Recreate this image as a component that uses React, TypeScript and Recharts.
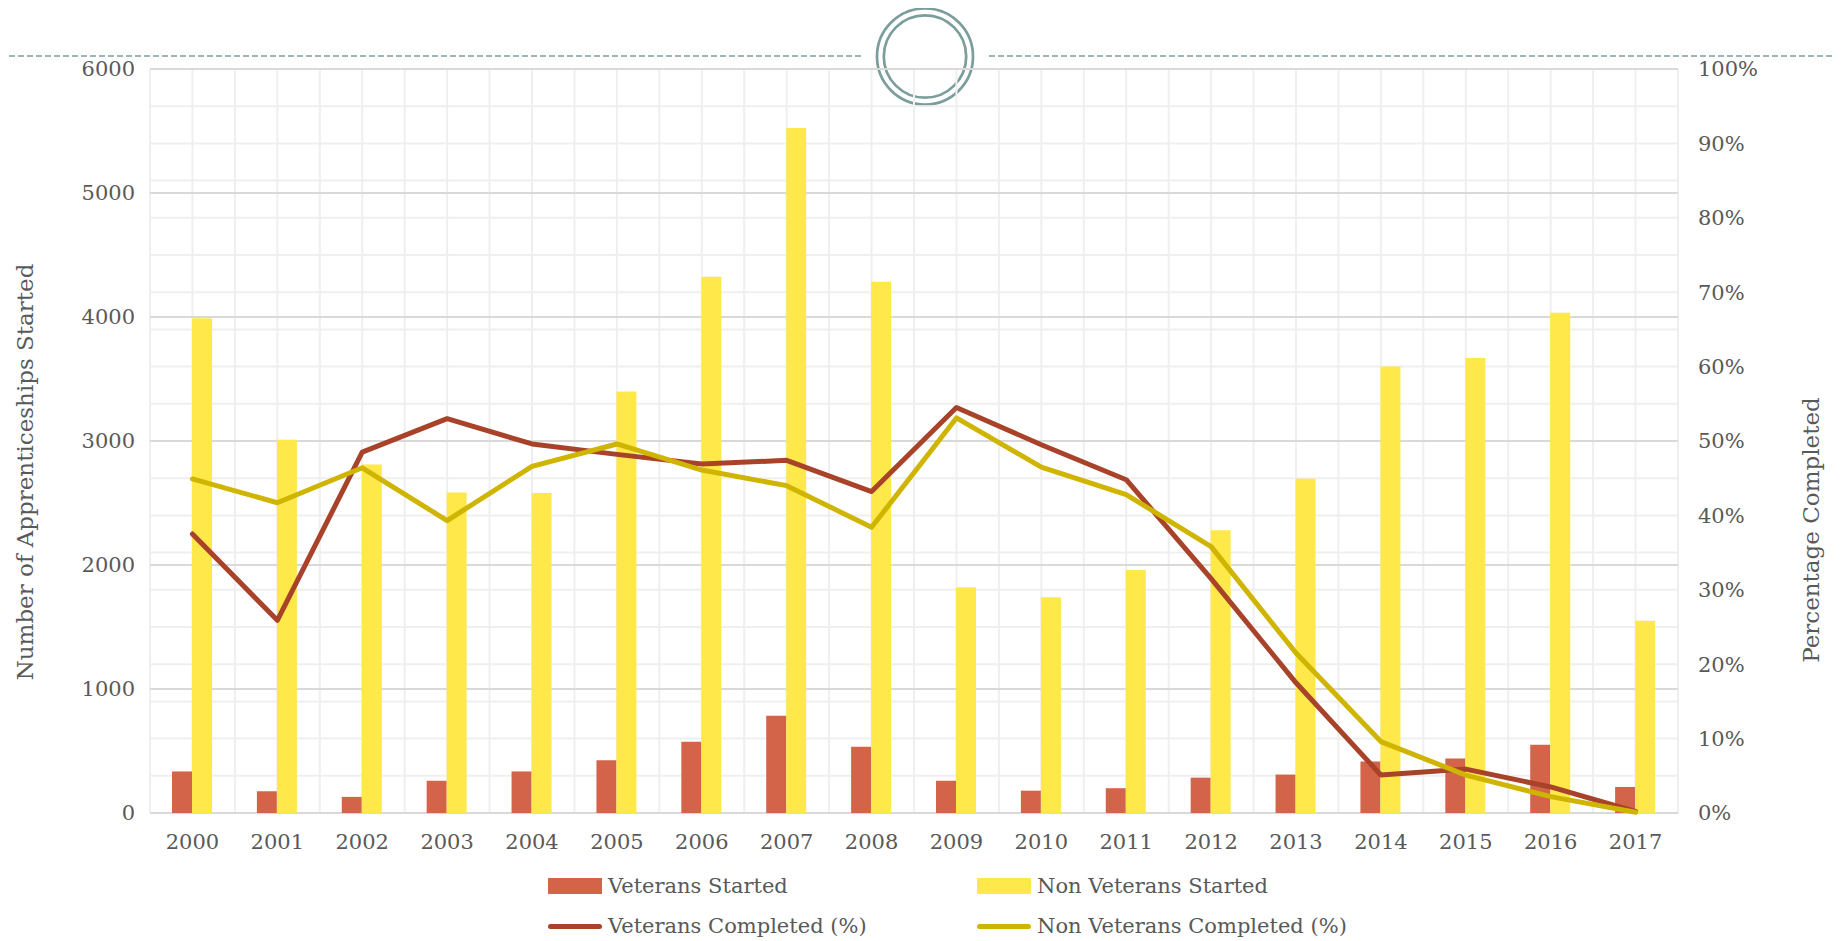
import {
  ComposedChart,
  Bar,
  Line,
  XAxis,
  YAxis,
  CartesianGrid,
} from 'recharts';

const years = [
  '2000', '2001', '2002', '2003', '2004', '2005', '2006', '2007', '2008',
  '2009', '2010', '2011', '2012', '2013', '2014', '2015', '2016', '2017',
];
const veteransStarted = [
  335, 175, 130, 260, 335, 425, 575, 785, 535, 260, 180, 200, 285, 310, 415, 440, 550, 210,
];
const nonVeteransStarted = [
  3990, 3010, 2810, 2585, 2580, 3400, 4325, 5525, 4285, 1820, 1740, 1960, 2280, 2695, 3600,
  3670, 4035, 1550,
];
const veteransCompleted = [
  37.5, 25.9, 48.5, 53.0, 49.6, 48.2, 46.9, 47.4, 43.2, 54.5, 49.5, 44.8, 31.5, 17.5, 5.1, 5.9,
  3.5, 0.2,
];
const nonVeteransCompleted = [
  44.9, 41.7, 46.4, 39.3, 46.6, 49.6, 46.1, 44.0, 38.4, 53.1, 46.5, 42.8, 35.8, 21.5, 9.6, 5.1,
  2.2, 0.1,
];
const countTicks = [0, 1000, 2000, 3000, 4000, 5000, 6000];
const percentTicks = [0, 10, 20, 30, 40, 50, 60, 70, 80, 90, 100];

const rows = years.map((year, i) => ({
  year,
  vetStarted: veteransStarted[i],
  nonVetStarted: nonVeteransStarted[i],
  vetCompleted: veteransCompleted[i],
  nonVetCompleted: nonVeteransCompleted[i],
}));

const FONT = '"DejaVu Serif", "Liberation Serif", serif';
const TEXT = '#595959';
const RED_BAR = '#d3644a';
const YELLOW_BAR = '#ffe84a';
const RED_LINE = '#a8432a';
const YELLOW_LINE = '#cfb400';
const TEAL = '#7b9e9c';

const legendItems = [
  { label: 'Veterans Started', color: RED_BAR, kind: 'bar', col: 0, row: 0 },
  { label: 'Non Veterans Started', color: YELLOW_BAR, kind: 'bar', col: 1, row: 0 },
  { label: 'Veterans Completed (%)', color: RED_LINE, kind: 'line', col: 0, row: 1 },
  { label: 'Non Veterans Completed (%)', color: YELLOW_LINE, kind: 'line', col: 1, row: 1 },
];

const Legend2x2 = () => (
  <div style={{ position: 'absolute', left: 0, top: 860, width: 1825, height: 72 }}>
    {legendItems.map((it) => (
      <div
        key={it.label}
        style={{
          position: 'absolute',
          left: it.col === 0 ? 540 : 969,
          top: it.row * 40,
          height: 36,
          display: 'flex',
          alignItems: 'center',
          fontFamily: FONT,
          fontSize: 21,
          color: TEXT,
          whiteSpace: 'nowrap',
        }}
      >
        {it.kind === 'bar' ? (
          <span style={{ width: 54, height: 16, background: it.color, marginRight: 6 }} />
        ) : (
          <span
            style={{ width: 54, height: 5, borderRadius: 3, background: it.color, marginRight: 6 }}
          />
        )}
        {it.label}
      </div>
    ))}
  </div>
);

const axisTitle = (text: string, dx: number, cy: number) =>
  ({ viewBox }: any) => {
    const x = viewBox.x + dx;
    return (
      <text
        x={x}
        y={cy}
        transform={`rotate(-90, ${x}, ${cy})`}
        textAnchor="middle"
        dominantBaseline="central"
        fill={TEXT}
        fontSize={23}
        fontFamily={FONT}
      >
        {text}
      </text>
    );
  };

export default function App() {
  return (
    <div style={{ position: 'relative', width: 1825, height: 933, fontFamily: FONT }}>
      {/* page decoration behind the chart */}
      <svg
        width={1841}
        height={120}
        style={{ position: 'absolute', left: -8, top: -8 }}
      >
        <line x1={0} y1={56} x2={861} y2={56} stroke={TEAL} strokeWidth={1.5} strokeDasharray="6 3" />
        <line x1={989} y1={56} x2={1841} y2={56} stroke={TEAL} strokeWidth={1.5} strokeDasharray="6 3" />
        <circle cx={925} cy={56.5} r={48} fill="none" stroke={TEAL} strokeWidth={2.7} />
        <circle cx={925} cy={56.5} r={41.2} fill="none" stroke={TEAL} strokeWidth={2.7} />
      </svg>

      <ComposedChart
        width={1825}
        height={925}
        data={rows}
        margin={{ top: 61, right: 0, bottom: 70, left: 0 }}
        barGap={0}
      >
        <CartesianGrid
          xAxisId="x"
          yAxisId="left"
          stroke="#efefef"
          strokeWidth={2}
          horizontalCoordinatesGenerator={({ offset }: any) =>
            Array.from({ length: 21 }, (_, i) => offset.top + (offset.height * i) / 20)
          }
          verticalCoordinatesGenerator={({ offset }: any) =>
            Array.from({ length: 37 }, (_, i) => offset.left + (offset.width * i) / 36)
          }
        />
        <CartesianGrid
          xAxisId="x"
          yAxisId="left"
          vertical={false}
          stroke="#d9d9d9"
          strokeWidth={2}
        />
        <XAxis
          xAxisId="x"
          dataKey="year"
          height={50}
          axisLine={false}
          tickLine={false}
          tickSize={0}
          tickMargin={21}
          tick={{ fill: TEXT, fontSize: 21, fontFamily: FONT }}
        />
        <YAxis
          yAxisId="left"
          width={142}
          domain={[0, 6000]}
          ticks={countTicks}
          axisLine={false}
          tickLine={false}
          tickSize={0}
          tickMargin={15}
          tick={{ fill: TEXT, fontSize: 21, fontFamily: FONT }}
          label={{ content: axisTitle('Number of Apprenticeships Started', 17, 464) }}
        />
        <YAxis
          yAxisId="right"
          orientation="right"
          width={155}
          domain={[0, 100]}
          ticks={percentTicks}
          tickFormatter={(v: number) => `${v}%`}
          axisLine={false}
          tickLine={false}
          tickSize={0}
          tickMargin={20}
          tick={{ fill: TEXT, fontSize: 21, fontFamily: FONT }}
          label={{ content: axisTitle('Percentage Completed', 133, 522) }}
        />
        <Bar
          xAxisId="x"
          yAxisId="left"
          dataKey="vetStarted"
          name="Veterans Started"
          fill={RED_BAR}
          barSize={20}
          isAnimationActive={false}
        />
        <Bar
          xAxisId="x"
          yAxisId="left"
          dataKey="nonVetStarted"
          name="Non Veterans Started"
          fill={YELLOW_BAR}
          barSize={20}
          isAnimationActive={false}
        />
        <Line
          xAxisId="x"
          yAxisId="right"
          type="linear"
          dataKey="vetCompleted"
          name="Veterans Completed (%)"
          stroke={RED_LINE}
          strokeWidth={5}
          strokeLinejoin="round"
          strokeLinecap="round"
          dot={false}
          activeDot={false}
          isAnimationActive={false}
        />
        <Line
          xAxisId="x"
          yAxisId="right"
          type="linear"
          dataKey="nonVetCompleted"
          name="Non Veterans Completed (%)"
          stroke={YELLOW_LINE}
          strokeWidth={5}
          strokeLinejoin="round"
          strokeLinecap="round"
          dot={false}
          activeDot={false}
          isAnimationActive={false}
        />
      </ComposedChart>
      <Legend2x2 />
    </div>
  );
}
